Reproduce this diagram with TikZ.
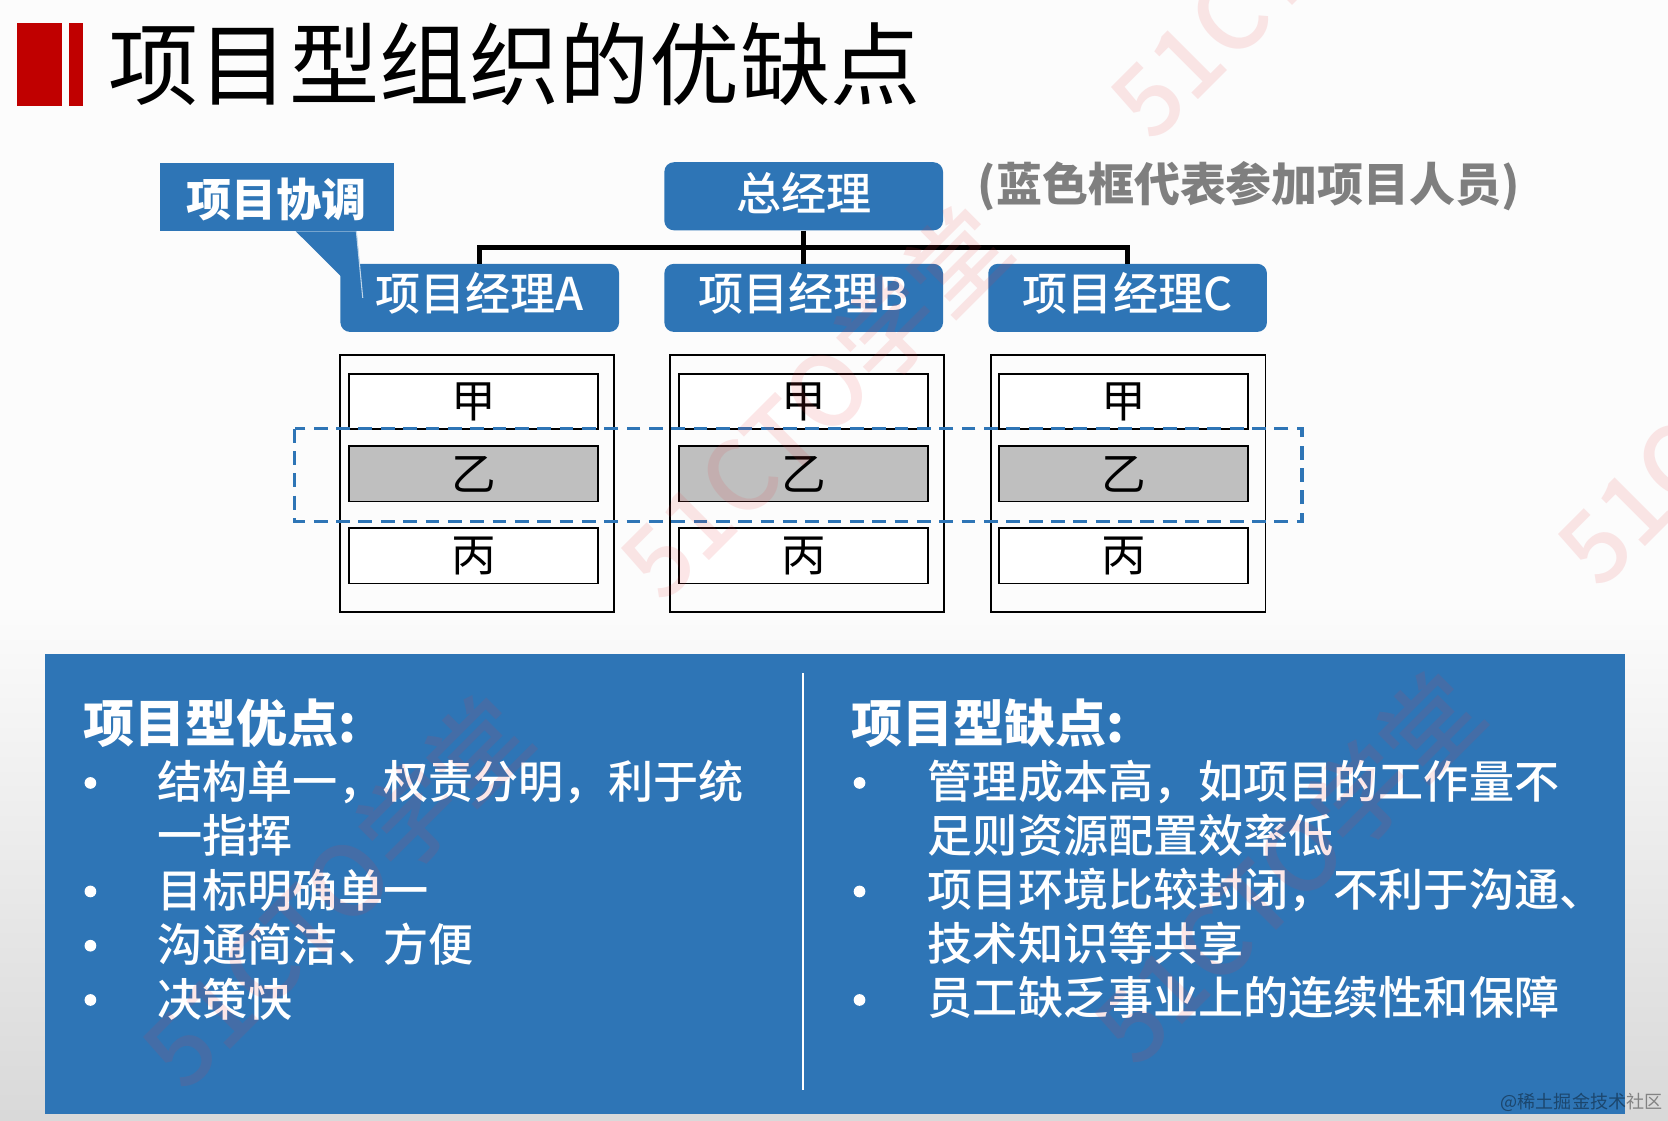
\documentclass[tikz,border=0pt]{standalone}
\usepackage{fontspec}
\setmainfont{Noto Sans CJK SC}
\newfontfamily\medfont{Noto Sans CJK SC}[UprightFont=* Medium]
\usetikzlibrary{calc}

\definecolor{panelblue}{HTML}{2E75B6}
\definecolor{titlered}{HTML}{C00000}
\definecolor{cellgrey}{HTML}{BFBFBF}
\definecolor{notegrey}{HTML}{7F7F7F}
\definecolor{markpink}{HTML}{E8383D}

\newcommand{\fs}[1]{\fontsize{#1}{#1}\selectfont}

\tikzset{
    pmbox/.style = {fill=panelblue, rounded corners=9pt, minimum width=262pt, minimum height=64pt,
        inner sep=0pt, text=white, font=\fs{42.4}\medfont},
    column/.style = {draw=black, line width=1.6pt, minimum width=258pt, minimum height=241pt, inner sep=0pt},
    cell/.style = {draw=black, line width=1.6pt, fill=white, minimum width=234pt, minimum height=52pt,
        inner sep=0pt, font=\fs{42}},
    greycell/.style = {cell, fill=cellgrey},
    trunk/.style = {draw=black, line width=4.5pt},
    heading/.style = {anchor=west, inner sep=0pt, text=white, font=\fs{48}\bfseries},
    textline/.style = {anchor=west, inner sep=0pt, text=white, font=\fs{42.4}\medfont},
    dot/.style = {circle, fill=white, minimum size=11pt, inner sep=0pt},
    wmark/.style = {rotate=45, text=markpink, text opacity=0.12, font=\fs{92}\medfont}
}

\begin{document}
\begin{tikzpicture}[x=1pt,y=-1pt]
        \useasboundingbox (0,0) rectangle (1568,1053);
        \clip (0,0) rectangle (1568,1053);

        \fill[white!99!black] (0,0) rectangle (1568,560);
        \shade[top color=white!99!black, bottom color=white!85!black] (0,560) rectangle (1568,1053);

        \fill[titlered] (16,22) rectangle (58,100);
        \fill[titlered] (65,22) rectangle (78,100);
        \node[anchor=west, inner sep=0pt, font=\fs{84.8}] (title) at (102,60) {项目型组织的优缺点};

        \node[pmbox, text height=34pt, text depth=8pt] (mgr) at (755.5,184.5) {总经理};
        \node[pmbox, text height=33pt, text depth=9pt] (pmA) at (451,280) {项目经理A};
        \node[pmbox, text height=33pt, text depth=9pt] (pmB) at (755.5,280) {项目经理B};
        \node[pmbox, text height=33pt, text depth=9pt] (pmC) at (1060,280) {项目经理C};

        \coordinate (bus) at (755.5,233);
        \draw[trunk] (mgr.south) -- (pmB.north);
        \draw[trunk] (pmA.north) |- (bus) -| (pmC.north);

        \node[anchor=north west, fill=panelblue, minimum width=220pt, minimum height=64pt, inner sep=0pt,
            text=white, font=\fs{42.4}\bfseries, text height=37pt, text depth=1pt] (coord) at (150,153) {项目协调};
        \coordinate (tip) at (341,280);
        \fill[panelblue] ($(coord.south west)+(128,0)$) -- (tip) -- ($(coord.south west)+(185,0)$) -- cycle;
        \draw[white!70!panelblue, line width=1pt] (tip) -- ($(coord.south west)+(185,0)$);

        \node[anchor=west, inner sep=0pt, text=notegrey, font=\fs{43.2}\bfseries] (note) at (919,175) {(蓝色框代表参加项目人员)};

        \node[column] (colA) at (448.5,454.5) {};
        \node[column] (colB) at (758.5,454.5) {};
        \node[column] (colC) at (1060.5,454.5) {};

        \node[cell] (jiaA) at (445,377.5) {甲};
        \node[greycell] (yiA) at (445,445.5) {乙};
        \node[cell] (bingA) at (445,522.5) {丙};
        \node[cell] (jiaB) at (755.5,377.5) {甲};
        \node[greycell] (yiB) at (755.5,445.5) {乙};
        \node[cell] (bingB) at (755.5,522.5) {丙};
        \node[cell] (jiaC) at (1056,377.5) {甲};
        \node[greycell] (yiC) at (1056,445.5) {乙};
        \node[cell] (bingC) at (1056,522.5) {丙};

        \draw[panelblue, line width=3pt, dash pattern=on 13pt off 8pt] (277,403) rectangle (1224,490);

        \fill[panelblue] (42,615) rectangle (1528,1047);
        \coordinate (splitT) at (755,633);
        \coordinate (splitB) at (755,1025);
        \draw[white, line width=1.6pt] (splitT) -- (splitB);

        \node[heading] (proHead) at (78,680) {项目型优点:};
        \node[dot] (proDotA) at (85,736) {};
        \node[textline] (proA) at (148,735) {结构单一，权责分明，利于统};
        \node[textline] (proB) at (148,785) {一指挥};
        \node[dot] (proDotC) at (85,838) {};
        \node[textline] (proC) at (148,837) {目标明确单一};
        \node[dot] (proDotD) at (85,889) {};
        \node[textline] (proD) at (148,888) {沟通简洁、方便};
        \node[dot] (proDotE) at (85,940) {};
        \node[textline] (proE) at (148,939) {决策快};

        \node[heading] (conHead) at (800,680) {项目型缺点:};
        \node[dot] (conDotA) at (808,736) {};
        \node[textline] (conA) at (872,735) {管理成本高，如项目的工作量不};
        \node[textline] (conB) at (872,785) {足则资源配置效率低};
        \node[dot] (conDotC) at (808,838) {};
        \node[textline] (conC) at (872,837) {项目环境比较封闭，不利于沟通、};
        \node[textline] (conD) at (872,887) {技术知识等共享};
        \node[dot] (conDotE) at (808,940) {};
        \node[textline] (conE) at (872,938) {员工缺乏事业上的连续性和保障};

        \node[wmark] (markA) at (765,378) {51CTO学堂};
        \node[wmark] (markB) at (1225,-55) {51CTO学堂};
        \node[wmark] (markC) at (1645,365) {51CTO学堂};
        \node[wmark] (markD) at (315,838) {51CTO学堂};
        \node[wmark] (markE) at (1210,815) {51CTO学堂};

        \node[anchor=east, inner sep=0pt, text=black, text opacity=0.4, font=\fs{17}] (site) at (1563,1036) {@稀土掘金技术社区};
\end{tikzpicture}
\end{document}
